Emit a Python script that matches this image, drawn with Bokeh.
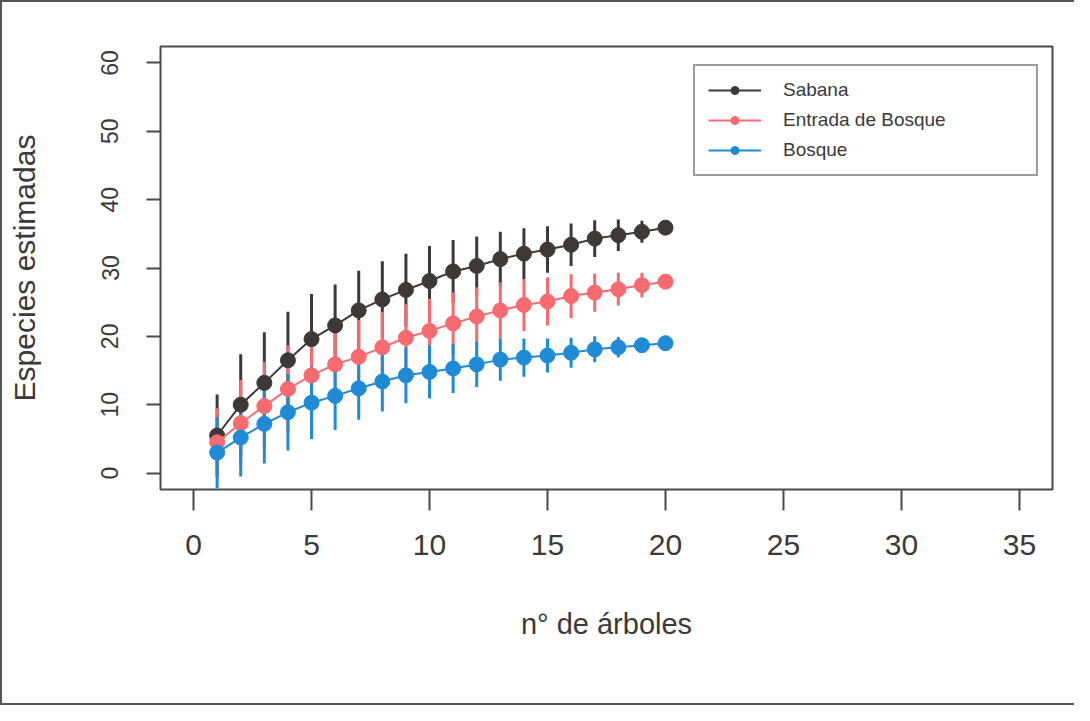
from bokeh.plotting import figure
from bokeh.models import Legend, LegendItem, Range1d, FixedTicker, ColumnDataSource
from bokeh.embed import file_html
from bokeh.resources import INLINE

# ---- data ----
arboles = list(range(1, 21))
sabana = [5.5, 10.0, 13.2, 16.5, 19.6, 21.6, 23.8, 25.4, 26.8, 28.1,
          29.5, 30.3, 31.3, 32.1, 32.7, 33.4, 34.3, 34.8, 35.3, 35.9]
sabana_err = [6.0, 7.4, 7.4, 7.1, 6.6, 6.0, 5.8, 5.6, 5.3, 5.1,
              4.6, 4.3, 4.0, 3.7, 3.4, 3.1, 2.7, 2.3, 1.6, 0.0]
entrada = [4.5, 7.3, 9.8, 12.3, 14.3, 15.9, 17.0, 18.4, 19.8, 20.8,
           21.9, 22.9, 23.8, 24.6, 25.1, 25.9, 26.4, 26.9, 27.5, 28.0]
entrada_err = [5.0, 6.3, 6.5, 6.4, 6.0, 5.7, 5.4, 5.2, 4.9, 4.7,
               4.5, 4.3, 4.1, 3.8, 3.5, 3.2, 2.8, 2.4, 1.8, 0.0]
bosque = [3.0, 5.2, 7.2, 8.9, 10.3, 11.3, 12.4, 13.4, 14.3, 14.8,
          15.3, 15.9, 16.6, 16.9, 17.2, 17.6, 18.1, 18.4, 18.7, 19.0]
bosque_err = [5.2, 5.7, 5.8, 5.6, 5.3, 5.0, 4.6, 4.4, 4.1, 3.9,
              3.6, 3.3, 3.1, 2.8, 2.5, 2.2, 1.9, 1.5, 1.0, 0.0]
series_names = ["Sabana", "Entrada de Bosque", "Bosque"]
x_ticks = [0, 5, 10, 15, 20, 25, 30, 35]
y_ticks = [0, 10, 20, 30, 40, 50, 60]

colors = ["#3f3838", "#f76a6f", "#1f8ad6"]
TXT = "#3a3a3a"
FONT = "Liberation Sans"

p = figure(width=1074, height=705, output_backend="svg", toolbar_location=None,
           x_range=Range1d(-1.4, 36.4), y_range=Range1d(-2.4, 62.4),
           min_border_left=158, min_border_right=24, min_border_top=44,
           min_border_bottom=218)
p.grid.visible = False
p.background_fill_color = "white"
p.border_fill_color = "white"
p.outline_line_color = "#4a4a4a"
p.outline_line_width = 2
p.outline_line_alpha = 1.0

for ax, ticks, tout in ((p.xaxis, x_ticks, 21), (p.yaxis, y_ticks, 14)):
    ax.ticker = FixedTicker(ticks=ticks)
    ax.axis_line_color = None
    ax.major_tick_out = tout
    ax.major_tick_in = 0
    ax.major_tick_line_color = "#4a4a4a"
    ax.major_tick_line_width = 2
    ax.minor_tick_line_color = None
    ax.major_label_text_font = FONT
    ax.major_label_text_color = TXT
    ax.axis_label_text_font = FONT
    ax.axis_label_text_color = TXT
    ax.axis_label_text_font_style = "normal"

p.xaxis.major_label_text_font_size = "30px"
p.xaxis.major_label_standoff = 24
p.xaxis.axis_label = "n° de árboles"
p.xaxis.axis_label_text_font_size = "29px"
p.xaxis.axis_label_standoff = 50

p.yaxis.major_label_text_font_size = "23px"
p.yaxis.major_label_orientation = "vertical"
p.yaxis.major_label_standoff = 28
p.yaxis.axis_label = "Especies estimadas"
p.yaxis.axis_label_text_font_size = "30px"
p.yaxis.axis_label_standoff = 58

all_series = [(sabana, sabana_err), (entrada, entrada_err), (bosque, bosque_err)]
sources = []
for (vals, err) in all_series:
    sources.append(ColumnDataSource(dict(
        x=arboles, y=vals,
        lo=[v - e for v, e in zip(vals, err)],
        hi=[v + e for v, e in zip(vals, err)])))

# error bars first (in series order), then lines and points
for src, col in zip(sources, colors):
    p.segment(x0="x", y0="lo", x1="x", y1="hi", source=src, line_color=col,
              line_width=3)

items = []
for src, col, name in zip(sources, colors, series_names):
    ln = p.line("x", "y", source=src, line_color=col, line_width=2)
    pt = p.scatter("x", "y", source=src, size=15, fill_color=col, line_color=col)
    items.append(LegendItem(label=name, renderers=[ln, pt]))

legend = Legend(items=items, location=(533, 313), margin=0, padding=13,
                spacing=8, glyph_width=53, glyph_height=20, label_height=20,
                label_standoff=22, label_width=240,
                label_text_font=FONT, label_text_font_size="19px",
                label_text_color=TXT, border_line_color="#3a3a3a",
                border_line_width=2, background_fill_color="white",
                background_fill_alpha=1.0)
p.add_layout(legend)

p.styles = {"border-left": "2px solid #555555", "border-top": "2px solid #555555",
            "border-bottom": "2px solid #555555"}

open("out.html", "w").write(file_html(p, INLINE))
